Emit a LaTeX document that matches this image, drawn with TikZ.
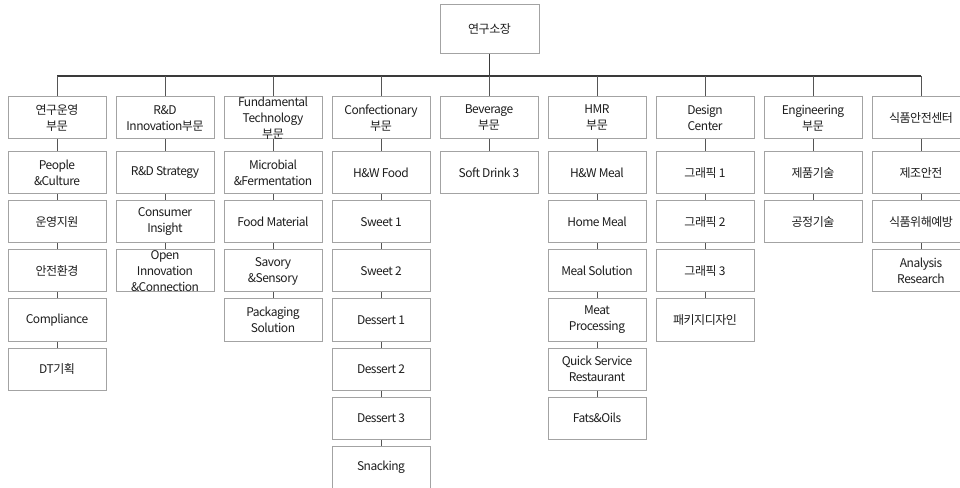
\documentclass[tikz,border=0pt]{standalone}
\usepackage{fontspec}
\setmainfont[LetterSpace=-4]{Noto Sans CJK KR}
\definecolor{boxc}{HTML}{A3A3A3}
\definecolor{txtc}{HTML}{1E1E1E}
\definecolor{trunkc}{HTML}{3A3A3A}
\definecolor{linkc}{HTML}{555555}
\newcommand{\bt}[1]{\parbox[c][31.5pt][c]{73.5pt}{\centering #1}}
\begin{document}
\begin{tikzpicture}[x=0.75pt,y=-0.75pt,
  box/.style={draw=boxc, line width=0.75pt, inner sep=0pt, fill=white, text=txtc,
    font=\fontsize{9}{12}\selectfont},
  trunk/.style={draw=trunkc, line width=1.3pt},
  link/.style={draw=linkc, line width=0.75pt}]
\useasboundingbox (0,0) rectangle (960,488);
% top
\node[box, minimum width=74.25pt, minimum height=36.75pt] (top) at (489.5,29.5) {연구소장};
\coordinate (busL) at (57,76);
\coordinate (busR) at (921,76);
% level 1
\node[box] (c1) at (57,118) {\bt{연구운영\\부문}};
\node[box] (c2) at (165,118) {\bt{R\&D\\Innovation부문}};
\node[box] (c3) at (273,118) {\bt{Fundamental\\Technology\\부문}};
\node[box] (c4) at (381,118) {\bt{Confectionary\\부문}};
\node[box] (c5) at (489,118) {\bt{Beverage\\부문}};
\node[box] (c6) at (597,118) {\bt{HMR\\부문}};
\node[box] (c7) at (705,118) {\bt{Design\\Center}};
\node[box] (c8) at (813,118) {\bt{Engineering\\부문}};
\node[box] (c9) at (921,118) {\bt{식품안전센터}};
% column 1
\node[box] (a1) at (57,173) {\bt{People\\\&Culture}};
\node[box] (a2) at (57,222) {\bt{운영지원}};
\node[box] (a3) at (57,271) {\bt{안전환경}};
\node[box] (a4) at (57,320) {\bt{Compliance}};
\node[box] (a5) at (57,369) {\bt{DT기획}};
% column 2
\node[box] (b1) at (165,173) {\bt{R\&D Strategy}};
\node[box] (b2) at (165,222) {\bt{Consumer\\Insight}};
\node[box] (b3) at (165,271) {\bt{Open\\Innovation\\\&Connection}};
% column 3
\node[box] (f1) at (273,173) {\bt{Microbial\\\&Fermentation}};
\node[box] (f2) at (273,222) {\bt{Food Material}};
\node[box] (f3) at (273,271) {\bt{Savory\\\&Sensory}};
\node[box] (f4) at (273,320) {\bt{Packaging\\Solution}};
% column 4
\node[box] (d1) at (381,173) {\bt{H\&W Food}};
\node[box] (d2) at (381,222) {\bt{Sweet 1}};
\node[box] (d3) at (381,271) {\bt{Sweet 2}};
\node[box] (d4) at (381,320) {\bt{Dessert 1}};
\node[box] (d5) at (381,369) {\bt{Dessert 2}};
\node[box] (d6) at (381,418) {\bt{Dessert 3}};
\node[box] (d7) at (381,467) {\bt{Snacking}};
% column 5
\node[box] (e1) at (489,173) {\bt{Soft Drink 3}};
% column 6
\node[box] (h1) at (597,173) {\bt{H\&W Meal}};
\node[box] (h2) at (597,222) {\bt{Home Meal}};
\node[box] (h3) at (597,271) {\bt{Meal Solution}};
\node[box] (h4) at (597,320) {\bt{Meat\\Processing}};
\node[box] (h5) at (597,369) {\bt{Quick Service\\Restaurant}};
\node[box] (h6) at (597,418) {\bt{Fats\&Oils}};
% column 7
\node[box] (g1) at (705,173) {\bt{그래픽 1}};
\node[box] (g2) at (705,222) {\bt{그래픽 2}};
\node[box] (g3) at (705,271) {\bt{그래픽 3}};
\node[box] (g4) at (705,320) {\bt{패키지디자인}};
% column 8
\node[box] (k1) at (813,173) {\bt{제품기술}};
\node[box] (k2) at (813,222) {\bt{공정기술}};
% column 9
\node[box] (s1) at (921,173) {\bt{제조안전}};
\node[box] (s2) at (921,222) {\bt{식품위해예방}};
\node[box] (s3) at (921,271) {\bt{Analysis\\Research}};
% connectors
\draw[trunk] (top.south) -- (top.south |- busL);
\draw[trunk] (busL) -- (busR);
\foreach \c in {c1,c2,c3,c4,c5,c6,c7,c8,c9}
  \draw[link] (\c.north |- busL) -- (\c.north);
\foreach \u/\v in {c1/a1,a1/a2,a2/a3,a3/a4,a4/a5,
                   c2/b1,b1/b2,b2/b3,
                   c3/f1,f1/f2,f2/f3,f3/f4,
                   c4/d1,d1/d2,d2/d3,d3/d4,d4/d5,d5/d6,d6/d7,
                   c5/e1,
                   c6/h1,h1/h2,h2/h3,h3/h4,h4/h5,h5/h6,
                   c7/g1,g1/g2,g2/g3,g3/g4,
                   c8/k1,k1/k2,
                   c9/s1,s1/s2,s2/s3}
  \draw[link] (\u.south) -- (\v.north);
\end{tikzpicture}
\end{document}
